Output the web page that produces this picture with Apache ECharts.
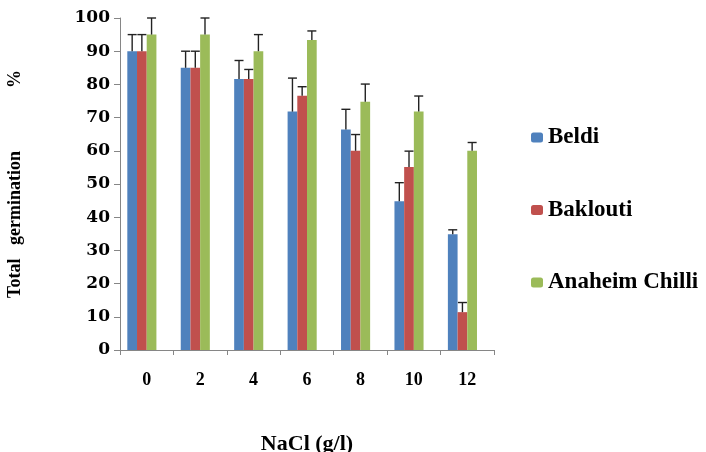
<!DOCTYPE html>
<html><head><meta charset="utf-8">
<script src="https://cdn.jsdelivr.net/npm/echarts@6/dist/echarts.min.js"></script>
<style>html,body{margin:0;padding:0;background:#fff}#c{width:706px;height:452px}</style>
</head><body><div id="c"></div>
<script>
const categories = ['0','2','4','6','8','10','12'];
const seriesNames = ['Beldi','Baklouti','Anaheim Chilli'];
const beldi = [90, 85, 81.6, 71.8, 66.4, 44.8, 34.9];
const baklouti = [90, 85, 81.6, 76.6, 60, 55.1, 11.4];
const anaheim = [95, 95, 90, 93.4, 74.8, 71.8, 60];
const beldiErr = [5, 5, 5.6, 10.1, 6.1, 5.6, 1.3];
const bakloutiErr = [5, 5, 2.9, 2.7, 4.9, 4.8, 2.9];
const anaheimErr = [5, 5, 5, 2.7, 5.3, 4.7, 2.5];
const yTicks = [0,10,20,30,40,50,60,70,80,90,100];
const colors = ['#4F81BD','#C0504D','#9BBB59'];

const values = [beldi, baklouti, anaheim];
const errs = [beldiErr, bakloutiErr, anaheimErr];
const BW = 9.7;
const font = 'Liberation Serif';
const wideFont = 'DejaVu Serif';

const series = [];
seriesNames.forEach((n,i)=>{
  series.push({name:n,type:'bar',data:values[i],barWidth:BW,barGap:'0%',
    itemStyle:{color:colors[i]}});
});
// placeholder slot so the three bars sit left of the category centre, as in the original
series.push({name:'_gap',type:'bar',data:categories.map(()=>null),barWidth:BW,barGap:'0%',silent:true});
seriesNames.forEach((n,i)=>{
  series.push({type:'custom',name:n+' err',silent:true,z:5,
    data:values[i].map((v,k)=>[k,v,v+errs[i][k]]),
    renderItem:function(params,api){
      const k=api.value(0);
      const c=api.coord([k,api.value(1)]);
      const t=api.coord([k,api.value(2)]);
      const x=c[0]-2*BW+(i+0.5)*BW;
      const half=4.5;
      const st={stroke:'#222',lineWidth:1.4};
      return {type:'group',children:[
        {type:'line',shape:{x1:x,y1:c[1],x2:x,y2:t[1]},style:st},
        {type:'line',shape:{x1:x-half,y1:t[1],x2:x+half,y2:t[1]},style:st}
      ]};
    }});
});

const chart = echarts.init(document.getElementById('c'),null,{renderer:'canvas'});
chart.setOption({
  animation:false,
  backgroundColor:'#fff',
  textStyle:{fontFamily:font},
  grid:{left:120,right:212,top:18,bottom:102,outerBoundsMode:'none',containLabel:false},
  legend:{orient:'vertical',left:526,top:121,itemWidth:12,itemHeight:10,itemGap:49.5,
    data:seriesNames,
    formatter:'{s|{name}}',
    textStyle:{fontFamily:font,fontWeight:'bold',fontSize:23,color:'#000',
      rich:{s:{fontFamily:font,fontWeight:'bold',fontSize:23,color:'#000'}}}},
  xAxis:{type:'category',data:categories,
    name:'NaCl (g/l)',nameLocation:'middle',nameGap:83,
    nameTextStyle:{fontFamily:font,fontWeight:'bold',fontSize:22,color:'#000'},
    axisLine:{lineStyle:{color:'#868686',width:1}},
    axisTick:{show:true,length:5,lineStyle:{color:'#868686'}},
    axisLabel:{fontFamily:font,fontWeight:'bold',fontSize:18,color:'#000',margin:21}},
  yAxis:{type:'value',min:0,max:100,interval:10,
    name:'Total   germination              %',nameLocation:'middle',nameGap:96,nameRotate:90,
    nameTextStyle:{fontFamily:font,fontWeight:'bold',fontSize:18,color:'#000'},
    splitLine:{show:false},
    axisLine:{show:true,lineStyle:{color:'#868686',width:1}},
    axisTick:{show:true,length:6,lineStyle:{color:'#868686'}},
    axisLabel:{fontFamily:wideFont,fontWeight:'bold',fontSize:17,color:'#000',margin:10,
      formatter:v=>yTicks.includes(v)?String(v):''}},
  series:series
});
</script></body></html>
